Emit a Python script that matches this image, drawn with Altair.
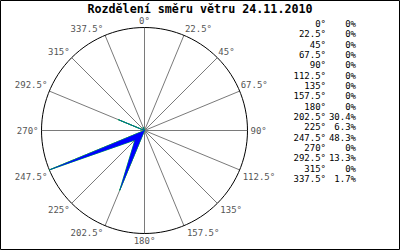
import altair as alt
import pandas as pd

# ---- data ----
dirs = [0, 22.5, 45, 67.5, 90, 112.5, 135, 157.5, 180, 202.5, 225, 247.5, 270, 292.5, 315, 337.5]
pct = [0, 0, 0, 0, 0, 0, 0, 0, 0, 30.4, 6.3, 48.3, 0, 13.3, 0, 1.7]
dir_labels = ["0°", "22.5°", "45°", "67.5°", "90°", "112.5°", "135°", "157.5°", "180°",
              "202.5°", "225°", "247.5°", "270°", "292.5°", "315°", "337.5°"]
pct_labels = ["0%", "0%", "0%", "0%", "0%", "0%", "0%", "0%", "0%",
              "30.4%", "6.3%", "48.3%", "0%", "13.3%", "0%", "1.7%"]
title_text = "Rozdělení směru větru 24.11.2010"

W, H = 400, 250
CX, CY, RPX = 144.5, 130.5, 103.0
RMAX = max(pct)
k = RPX / RMAX
xdom = [-CX / k, (W - CX) / k]
ydom = [-(H - CY) / k, CY / k]

df = pd.DataFrame({"dir": dirs, "pct": pct, "lab": dir_labels,
                   "plab": pct_labels, "idx": list(range(len(dirs)))})
df["R"] = RMAX

xs = alt.Scale(domain=xdom, nice=False, zero=False)
ys = alt.Scale(domain=ydom, nice=False, zero=False)

base = alt.Chart(df)

def polar(chart, rfield, xn="px", yn="py"):
    return chart.transform_calculate(
        **{xn: f"datum.{rfield} * sin(datum.dir * PI / 180)",
           yn: f"datum.{rfield} * cos(datum.dir * PI / 180)"}
    )

# circle (grid)
circ_df = pd.DataFrame({"dir": list(range(0, 361, 3))})
circ_df["R"] = RMAX
circle = polar(alt.Chart(circ_df), "R").mark_line(color="black", strokeWidth=1).encode(
    x=alt.X("px:Q", scale=xs, axis=None),
    y=alt.Y("py:Q", scale=ys, axis=None),
    order="dir:Q",
)

spokes = polar(base, "R").transform_calculate(z="0").mark_rule(
    color="#7a7a7a", strokeWidth=1).encode(
    x=alt.X("z:Q", scale=xs, axis=None),
    y=alt.Y("z:Q", scale=ys, axis=None),
    x2="px:Q", y2="py:Q",
)

radar_edge = polar(base, "pct").mark_line(
    interpolate="linear-closed", color="#00ff00", strokeWidth=1).encode(
    x=alt.X("px:Q", scale=xs, axis=None),
    y=alt.Y("py:Q", scale=ys, axis=None),
    order="dir:Q",
)
radar_fill = polar(base, "pct").mark_line(
    interpolate="linear-closed", fill="#0000ff", stroke="#0000ff", strokeWidth=0.4).encode(
    x=alt.X("px:Q", scale=xs, axis=None),
    y=alt.Y("py:Q", scale=ys, axis=None),
    order="dir:Q",
)

groups = [
    ("datum.dir == 0", "center", "bottom", 0, -2),
    ("datum.dir > 0 && datum.dir < 90", "left", "bottom", 1, -1),
    ("datum.dir == 90", "left", "middle", 3, 0),
    ("datum.dir > 90 && datum.dir < 180", "left", "top", 3, 3),
    ("datum.dir == 180", "center", "top", 0, 3),
    ("datum.dir > 180 && datum.dir < 270", "right", "top", -2, 3),
    ("datum.dir == 270", "right", "middle", -3, 0),
    ("datum.dir > 270", "right", "bottom", -2, -1),
]
label_layers = []
for cond, al, bl, dx, dy in groups:
    label_layers.append(
        polar(base, "R").transform_filter(cond).mark_text(
            align=al, baseline=bl, dx=dx, dy=dy, font="DejaVu Sans Mono",
            fontSize=9, color="#555555").encode(
            x=alt.X("px:Q", scale=xs, axis=None),
            y=alt.Y("py:Q", scale=ys, axis=None),
            text="lab:N",
        )
    )

ly = alt.Scale(domain=[0, 15], range=[24, 179])
leg_dir = base.mark_text(align="right", baseline="middle", font="DejaVu Sans Mono",
                         fontSize=9, color="black").encode(
    x=alt.value(326), y=alt.Y("idx:Q", scale=ly, axis=None), text="lab:N")
leg_pct = base.mark_text(align="right", baseline="middle", font="DejaVu Sans Mono",
                         fontSize=9, color="black").encode(
    x=alt.value(356), y=alt.Y("idx:Q", scale=ly, axis=None), text="plab:N")

one = alt.Data(values=[{"t": title_text}])
title = alt.Chart(one).mark_text(align="center", baseline="middle", font="DejaVu Sans Mono",
                                 fontSize=11.7, fontWeight="bold", color="black").encode(
    x=alt.value(200), y=alt.value(9), text="t:N")
border = alt.Chart(one).mark_rect(fill=None, stroke="black", strokeWidth=1).encode(
    x=alt.value(0.5), x2=alt.value(399.5), y=alt.value(0.5), y2=alt.value(249.5))

chart = alt.layer(
    spokes, circle, radar_edge, radar_fill, *label_layers, leg_dir, leg_pct, title, border
).resolve_scale(y="independent").properties(
    width=W, height=H, autosize=alt.AutoSizeParams(type="none"), padding=0,
    background="white",
).configure_view(stroke=None)

chart.save("out.html", embed_options={"renderer": "svg", "actions": False})
